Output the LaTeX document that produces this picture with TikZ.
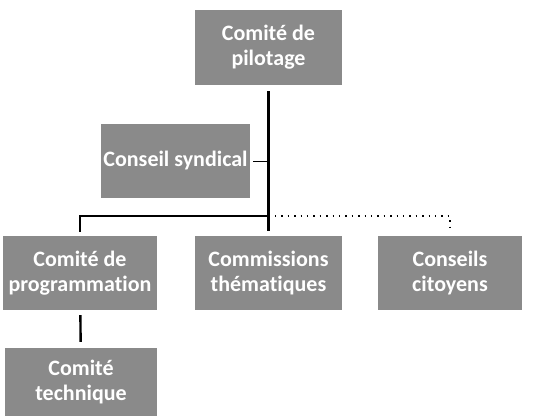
\documentclass[tikz,border=0pt]{standalone}
\usepackage{fontspec}
\setmainfont[Ligatures=NoCommon]{Carlito}
\definecolor{grisboite}{RGB}{138,138,138}
\begin{document}
\begin{tikzpicture}[x=1pt, y=-1pt, line width=2.4pt]
    \tikzset{boite/.style={fill=grisboite, text=white, align=center, inner sep=0pt,
        font=\bfseries\fontsize{22}{25}\selectfont}}
    \useasboundingbox (0,0) rectangle (536,416);

    % Les organes
    \node[boite, minimum width=147, minimum height=75] (pilotage) at (268.5,47.5) {Comité de\\pilotage};
    \node[boite, minimum width=149, minimum height=74] (syndical) at (175.5,161) {Conseil syndical};
    \node[boite, minimum width=154, minimum height=74] (programmation) at (80,273) {Comité de\\programmation};
    \node[boite, minimum width=147, minimum height=74] (commissions) at (268.5,273) {Commissions\\thématiques};
    \node[boite, minimum width=144, minimum height=74] (citoyens) at (450,273) {Conseils\\citoyens};
    \node[boite, minimum width=152, minimum height=68] (technique) at (81,382) {Comité\\technique};
    \coordinate (jonction) at (268.5,216);

    % Les liens
    \draw[shorten <=5pt, shorten >=4pt] (pilotage) -- (commissions);
    \draw[line width=1.6pt, shorten >=3pt] (jonction) -| (programmation.north);
    \draw[line width=1.4pt, dash pattern=on 1.4pt off 5pt, shorten >=4pt] (jonction) -| (citoyens.north);
    \draw[line width=0.8pt, shorten <=2pt] (syndical) -- (syndical -| pilotage);
    \draw[shorten <=4pt, shorten >=5pt] (programmation) -- (technique);
\end{tikzpicture}
\end{document}
